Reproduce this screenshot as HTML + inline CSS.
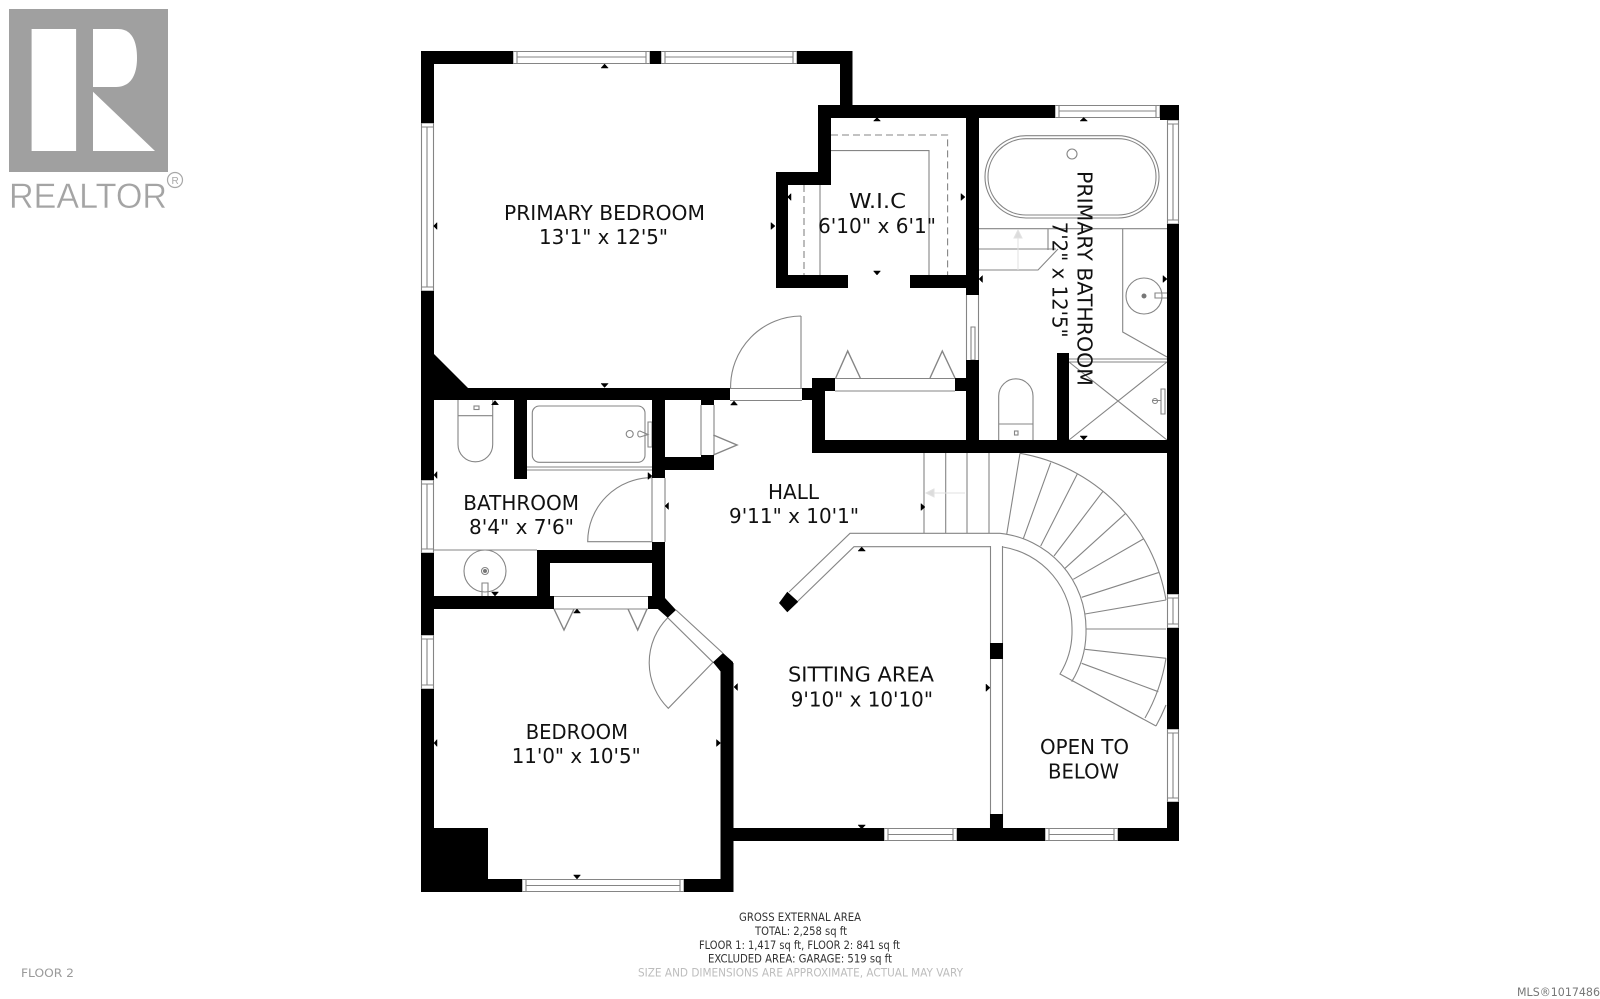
<!DOCTYPE html>
<html><head><meta charset="utf-8"><title>Floor 2</title>
<style>
html,body{margin:0;padding:0;background:#fff;width:1600px;height:999px;overflow:hidden}
svg{display:block;filter:blur(.35px)}
text{font-family:"DejaVu Sans","Liberation Sans",sans-serif;fill:#111}
.r{font-size:20px;text-anchor:start}
.f{font-size:11.5px;fill:#333}
</style></head><body>
<svg width="1600" height="999" viewBox="0 0 1600 999" xmlns="http://www.w3.org/2000/svg">
<rect width="1600" height="999" fill="#fff"/>

<!-- logo -->
<rect x="9" y="9" width="159" height="163" fill="#a0a0a0"/>
<rect x="31.6" y="29" width="44.500" height="122" fill="#fff"/>
<path d="M93 29H118C131 29 137 40 137 58C137 76 130 87 116 87H93Z" fill="#fff"/>
<path d="M93 91.700L155 151H93Z" fill="#fff"/>
<text x="9" y="208" font-size="35" textLength="158" lengthAdjust="spacingAndGlyphs" stroke="#fff" stroke-width=".4" style="font-family:'Liberation Sans',sans-serif;fill:#a4a4a4">REALTOR</text>
<circle cx="175" cy="180" r="7.500" fill="none" stroke="#a8a8a8" stroke-width="1.200"/>
<text x="171.500" y="184" font-size="10" style="font-family:'Liberation Sans',sans-serif;fill:#a8a8a8">R</text>

<!-- thin gray lines -->
<g fill="none" stroke="#858585" stroke-width="1.100">
<!-- windows horizontal -->
<path d="M513 51.500H650V63.500H513ZM517 51.500V63.500M646 51.500V63.500M517 57H646"/>
<path d="M661 51.500H797V63.500H661ZM665 51.500V63.500M793 51.500V63.500M665 57H793"/>
<path d="M1055 105.500H1160V117.500H1055ZM1059 105.500V117.500M1156 105.500V117.500M1059 111H1156"/>
<path d="M884 828.500H957V840.500H884ZM888 828.500V840.500M953 828.500V840.500M888 834.500H953"/>
<path d="M1045 828.500H1118V840.500H1045ZM1049 828.500V840.500M1114 828.500V840.500M1049 834.500H1114"/>
<path d="M522 879.500H684V891.500H522ZM526 879.500V891.500M680 879.500V891.500M526 885.500H680"/>
<!-- windows vertical -->
<path d="M421.500 123V291H433.500V123ZM421.500 127H433.500M421.500 287H433.500M427 127V287"/>
<path d="M421.500 480V553H433.500V480ZM421.500 484H433.500M421.500 549H433.500M427 484V549"/>
<path d="M421.500 635V689H433.500V635ZM421.500 639H433.500M421.500 685H433.500M427 639V685"/>
<path d="M1167.500 120V224H1178.500V120ZM1167.500 124H1178.500M1167.500 220H1178.500M1173 124V220"/>
<path d="M1167.500 594V628H1178.500V594ZM1167.500 598H1178.500M1167.500 624H1178.500M1173 598V624"/>
<path d="M1167.500 729V802H1178.500V729ZM1167.500 733H1178.500M1167.500 798H1178.500M1173 733V798"/>

<!-- primary door -->
<path d="M730 388.500H802M730 400.500H802M801 316V388M730.600 388A71 71 0 0 1 801 316"/>
<!-- WIC -->
<path d="M831 135H947.600V275M804 185V275" stroke-dasharray="7 4"/>
<path d="M831 150.600H929V275M820 185V275"/>
<!-- door WIC/bath, pocket -->
<path d="M966.500 295V360M978.500 295V360"/>
<path d="M971 327H975V360H971Z"/>
<!-- closet -->
<path d="M835 378.500H955M835 391H955"/>
<path d="M835.700 378L847.700 351L860.300 378M930 378L942.300 351L955 378" stroke-width="1.400"/>
<!-- tub -->
<rect x="985" y="135.700" width="174" height="82.300" rx="41" ry="41"/>
<rect x="988" y="138.700" width="168" height="76.300" rx="38" ry="38"/>
<circle cx="1072" cy="154" r="5"/>
<!-- bath steps -->
<path d="M979 228.700H1167M979 249H1056M979 270H1038L1058 249M1048 228.700V250"/>
<!-- vanity -->
<path d="M1122.700 228.700V332L1167 357"/>
<circle cx="1144" cy="296" r="18"/>
<path d="M1167 293H1155V298H1167"/>
<!-- shower -->
<path d="M1069 359H1167M1069 362H1167M1069 440L1167 362M1069 362L1167 440"/>
<path d="M1161 389H1165V414H1161ZM1152 400.500H1161"/>
<circle cx="1155" cy="401" r="2.500"/>
<!-- toilet primary bath -->
<path d="M998.700 440V396A17 17 0 0 1 1033 396V440M998.700 424H1033"/>
<rect x="1014.500" y="431" width="3.500" height="4"/>
<!-- stairs straight -->
<path d="M924 453V533M945.700 453V533M967 453V533M989 453V533"/>
<!-- banister -->
<path d="M1000 533.300H850L789 592M990 546.700H854L798 601"/>
<path d="M1000 533.300A96 96 0 0 1 1086 629A96 96 0 0 1 1071.700 681.700"/>
<path d="M1003 547A82 82 0 0 1 1072 629A82 82 0 0 1 1060 674L1156 726"/>
<path d="M990.500 546V828M1002.500 546V828"/>
<!-- outer stair arc -->
<path d="M1020 453.300A179 179 0 0 1 1166 600M1166 658.300A179 179 0 0 1 1145 718M1156 726A192 192 0 0 0 1166 705"/>
<!-- treads -->
<path d="M1006.700 534.300L1020 453.300M1023.300 538.700L1050.700 462.700M1040.700 546L1077.300 474M1054 556L1102.700 491.700M1065 568.300L1125.700 513.300M1073.300 579.300L1143.300 539M1081.700 597.300L1159.300 572.300M1085 614L1166 600M1086 629H1166M1085 649.300L1166 658.300M1081.700 663.300L1158.300 691.700"/>
<!-- bathroom 2 -->
<path d="M458 400V444.500A17.300 17.300 0 0 0 492.700 444.500V400M458 415.700H492.700"/>
<rect x="474" y="406" width="5" height="3.500"/>
<rect x="532.300" y="406" width="112.700" height="56.300" rx="7"/>
<circle cx="629.700" cy="434" r="3.500"/>
<path d="M640 431C637 431 637 437 640 437L648 434.500ZM648 422H652V447H648Z"/>
<path d="M527 467H652M527 470H652"/>
<path d="M434 550H537"/>
<circle cx="485" cy="571" r="21"/>
<circle cx="485" cy="571" r="3.500"/>
<path d="M482 596V583H488V596"/>
<!-- bathroom door -->
<path d="M652 541.700H587.700A64 64 0 0 1 652 477.700M652 478V542M665 478V542"/>
<!-- closet bedroom -->
<path d="M554 596.500H648M554 609H648"/>
<path d="M554 609L564 630L574 609M628 609L637.700 630L647 609" stroke-width="1.400"/>
<!-- bedroom door -->
<path d="M676 610L722.700 653M667.700 617.700L713 662.300M713 662.300L668.300 708.300A64 64 0 0 1 667.700 617.700"/>
<!-- hall closet -->
<path d="M701 405V455M714 405V455"/>
<path d="M713.300 435L737 445L713.300 455" stroke-width="1.400"/>
</g>

<!-- light arrows -->
<g fill="#dcdcdc" stroke="#e2e2e2" stroke-width="1">
<path d="M1018 238V270" fill="none"/>
<path d="M1014 238L1018 230L1022 238Z"/>
<path d="M934 493H965" fill="none"/>
<path d="M934 489L926 493L934 497Z"/>
</g>
<circle cx="485" cy="571" r="2" fill="#777"/>
<circle cx="1144" cy="296" r="2.500" fill="#777"/>

<!-- walls -->
<path fill="#000" d="
M421 51H513V64H421Z M650 51H661V64H650Z M797 51H852.500V64H797Z M840 51H852.500V118H840Z
M818 105H1055V118H818Z M1160 105H1179V120H1160Z
M818 105H831V185H818Z M776 172H831V185H776Z M776 172H788V288H776Z
M776 275H848V288H776Z M910 275H979V288H910Z
M966 105H979V295H966Z M966 360H979V453H966Z
M812 378H835V391H812Z M955 378H979V391H955Z M812 378H825V453H812Z M812 440H1179V453H812Z M802 388H825V400H802Z
M1057 353H1069V453H1057Z
M1167 224H1179V594H1167Z M1167 628H1179V729H1167Z M1167 802H1179V841H1167Z
M733 828H884V841H733Z M957 828H1045V841H957Z M1118 828H1179V841H1118Z
M990 643H1003V659H990Z M990 814H1003V828H990Z
M720.500 663H733.500V892H720.500Z
M421 879H522V892H421Z M684 879H733V892H684Z M421 828H488V892H421Z
M421 51H434V123H421Z M421 291H434V480H421Z M421 553H434V635H421Z M421 689H434V892H421Z
M434 354L468 388H730V400H434Z
M514 400H527V479H514Z M652 400H665V478H652Z M665 457H714V470H665Z M701 400H714V405H701Z M701 455H714V470H701Z
M652 542H665V609H652Z M537 550H665V563H537Z M537 550H550V609H537Z M421 596H554V609H421Z M648 596H665V609H648Z
M665 598L676 610L667.700 617.700L656.700 608Z
M723 653L733 662V672H721L713 662.300Z
M787.300 591.700L798.300 601.700L787.300 612.300L779 603Z"/>

<!-- markers -->
<path fill="#000" stroke="#000" stroke-width=".5" d="
M601 68L604.600 64L608.200 68Z M601 383.500L604.600 387.500L608.200 383.500Z M437 222.500L433.500 226L437 229.500Z M771 222.500L775 226L771 229.500Z
M873.500 121L877 117.500L880.500 121Z M873.500 271L877 275L880.500 271Z M961 193.500L965 197L961 200.500Z M791 193.500L787.500 197L791 200.500Z
M1080 121L1083.700 117.500L1087.400 121Z M982.500 275.500L979 279L982.500 282.500Z M1163 275.500L1167 279L1163 282.500Z M1080 436L1083.700 440L1087.400 436Z
M491.500 404.700L495 400.500L498.500 404.700Z M491.500 592L495 596L498.500 592Z M437 471.500L434 475L437 478.500Z M648 472.500L652 476L648 479.500Z
M730.500 405L734 401L737.500 405Z M668.500 502.500L665 506L668.500 509.500Z M921 503.500L925 507L921 510.500Z
M573.500 613L577 609L580.500 613Z M437 739.500L434 743L437 746.500Z M716.500 739.500L720.500 743L716.500 746.500Z M573.500 875L577 879L580.500 875Z
M858 551L861.700 547L865.400 551Z M737.500 683.500L734 687L737.500 690.500Z M986 684L990 687.700L986 691.400Z M858 825L861.700 829L865.400 825Z"/>

<!-- room labels -->
<g class="r">
<text class="r" x="504" y="220" textLength="201" lengthAdjust="spacingAndGlyphs">PRIMARY BEDROOM</text>
<text class="r" x="539" y="244" textLength="129" lengthAdjust="spacingAndGlyphs">13'1" x 12'5"</text>
<text class="r" x="849" y="208" textLength="57" lengthAdjust="spacingAndGlyphs">W.I.C</text>
<text class="r" x="818" y="233" textLength="118" lengthAdjust="spacingAndGlyphs">6'10" x 6'1"</text>
<text class="r" transform="translate(1077.500 171) rotate(90)" textLength="215" lengthAdjust="spacingAndGlyphs">PRIMARY BATHROOM</text>
<text class="r" transform="translate(1052.500 221.700) rotate(90)" textLength="116" lengthAdjust="spacingAndGlyphs">7'2" x 12'5"</text>
<text class="r" x="463.300" y="510" textLength="115.700" lengthAdjust="spacingAndGlyphs">BATHROOM</text>
<text class="r" x="469" y="534" textLength="105" lengthAdjust="spacingAndGlyphs">8'4" x 7'6"</text>
<text class="r" x="768" y="499" textLength="51" lengthAdjust="spacingAndGlyphs">HALL</text>
<text class="r" x="729" y="523" textLength="130" lengthAdjust="spacingAndGlyphs">9'11" x 10'1"</text>
<text class="r" x="788" y="681.700" textLength="146" lengthAdjust="spacingAndGlyphs">SITTING AREA</text>
<text class="r" x="790.700" y="706.700" textLength="142.300" lengthAdjust="spacingAndGlyphs">9'10" x 10'10"</text>
<text class="r" x="1040" y="754" textLength="89" lengthAdjust="spacingAndGlyphs">OPEN TO</text>
<text class="r" x="1048" y="778.700" textLength="71" lengthAdjust="spacingAndGlyphs">BELOW</text>
<text class="r" x="525.700" y="739" textLength="102.300" lengthAdjust="spacingAndGlyphs">BEDROOM</text>
<text class="r" x="511.700" y="763" textLength="129" lengthAdjust="spacingAndGlyphs">11'0" x 10'5"</text>
</g>

<!-- footer -->
<text class="f" x="739" y="921" textLength="122" lengthAdjust="spacingAndGlyphs">GROSS EXTERNAL AREA</text>
<text class="f" x="755" y="935" textLength="92" lengthAdjust="spacingAndGlyphs">TOTAL: 2,258 sq ft</text>
<text class="f" x="699" y="949" textLength="201" lengthAdjust="spacingAndGlyphs">FLOOR 1: 1,417 sq ft, FLOOR 2: 841 sq ft</text>
<text class="f" x="708" y="962.700" textLength="184" lengthAdjust="spacingAndGlyphs">EXCLUDED AREA: GARAGE: 519 sq ft</text>
<text class="f" x="638" y="976.700" textLength="325" lengthAdjust="spacingAndGlyphs" style="fill:#bdbdbd">SIZE AND DIMENSIONS ARE APPROXIMATE, ACTUAL MAY VARY</text>
<text class="f" x="21" y="977" textLength="53" lengthAdjust="spacingAndGlyphs" style="fill:#9a9a9a">FLOOR 2</text>
<text class="f" x="1517" y="996" textLength="83" lengthAdjust="spacingAndGlyphs" style="fill:#777">MLS®1017486</text>
</svg>
</body></html>
